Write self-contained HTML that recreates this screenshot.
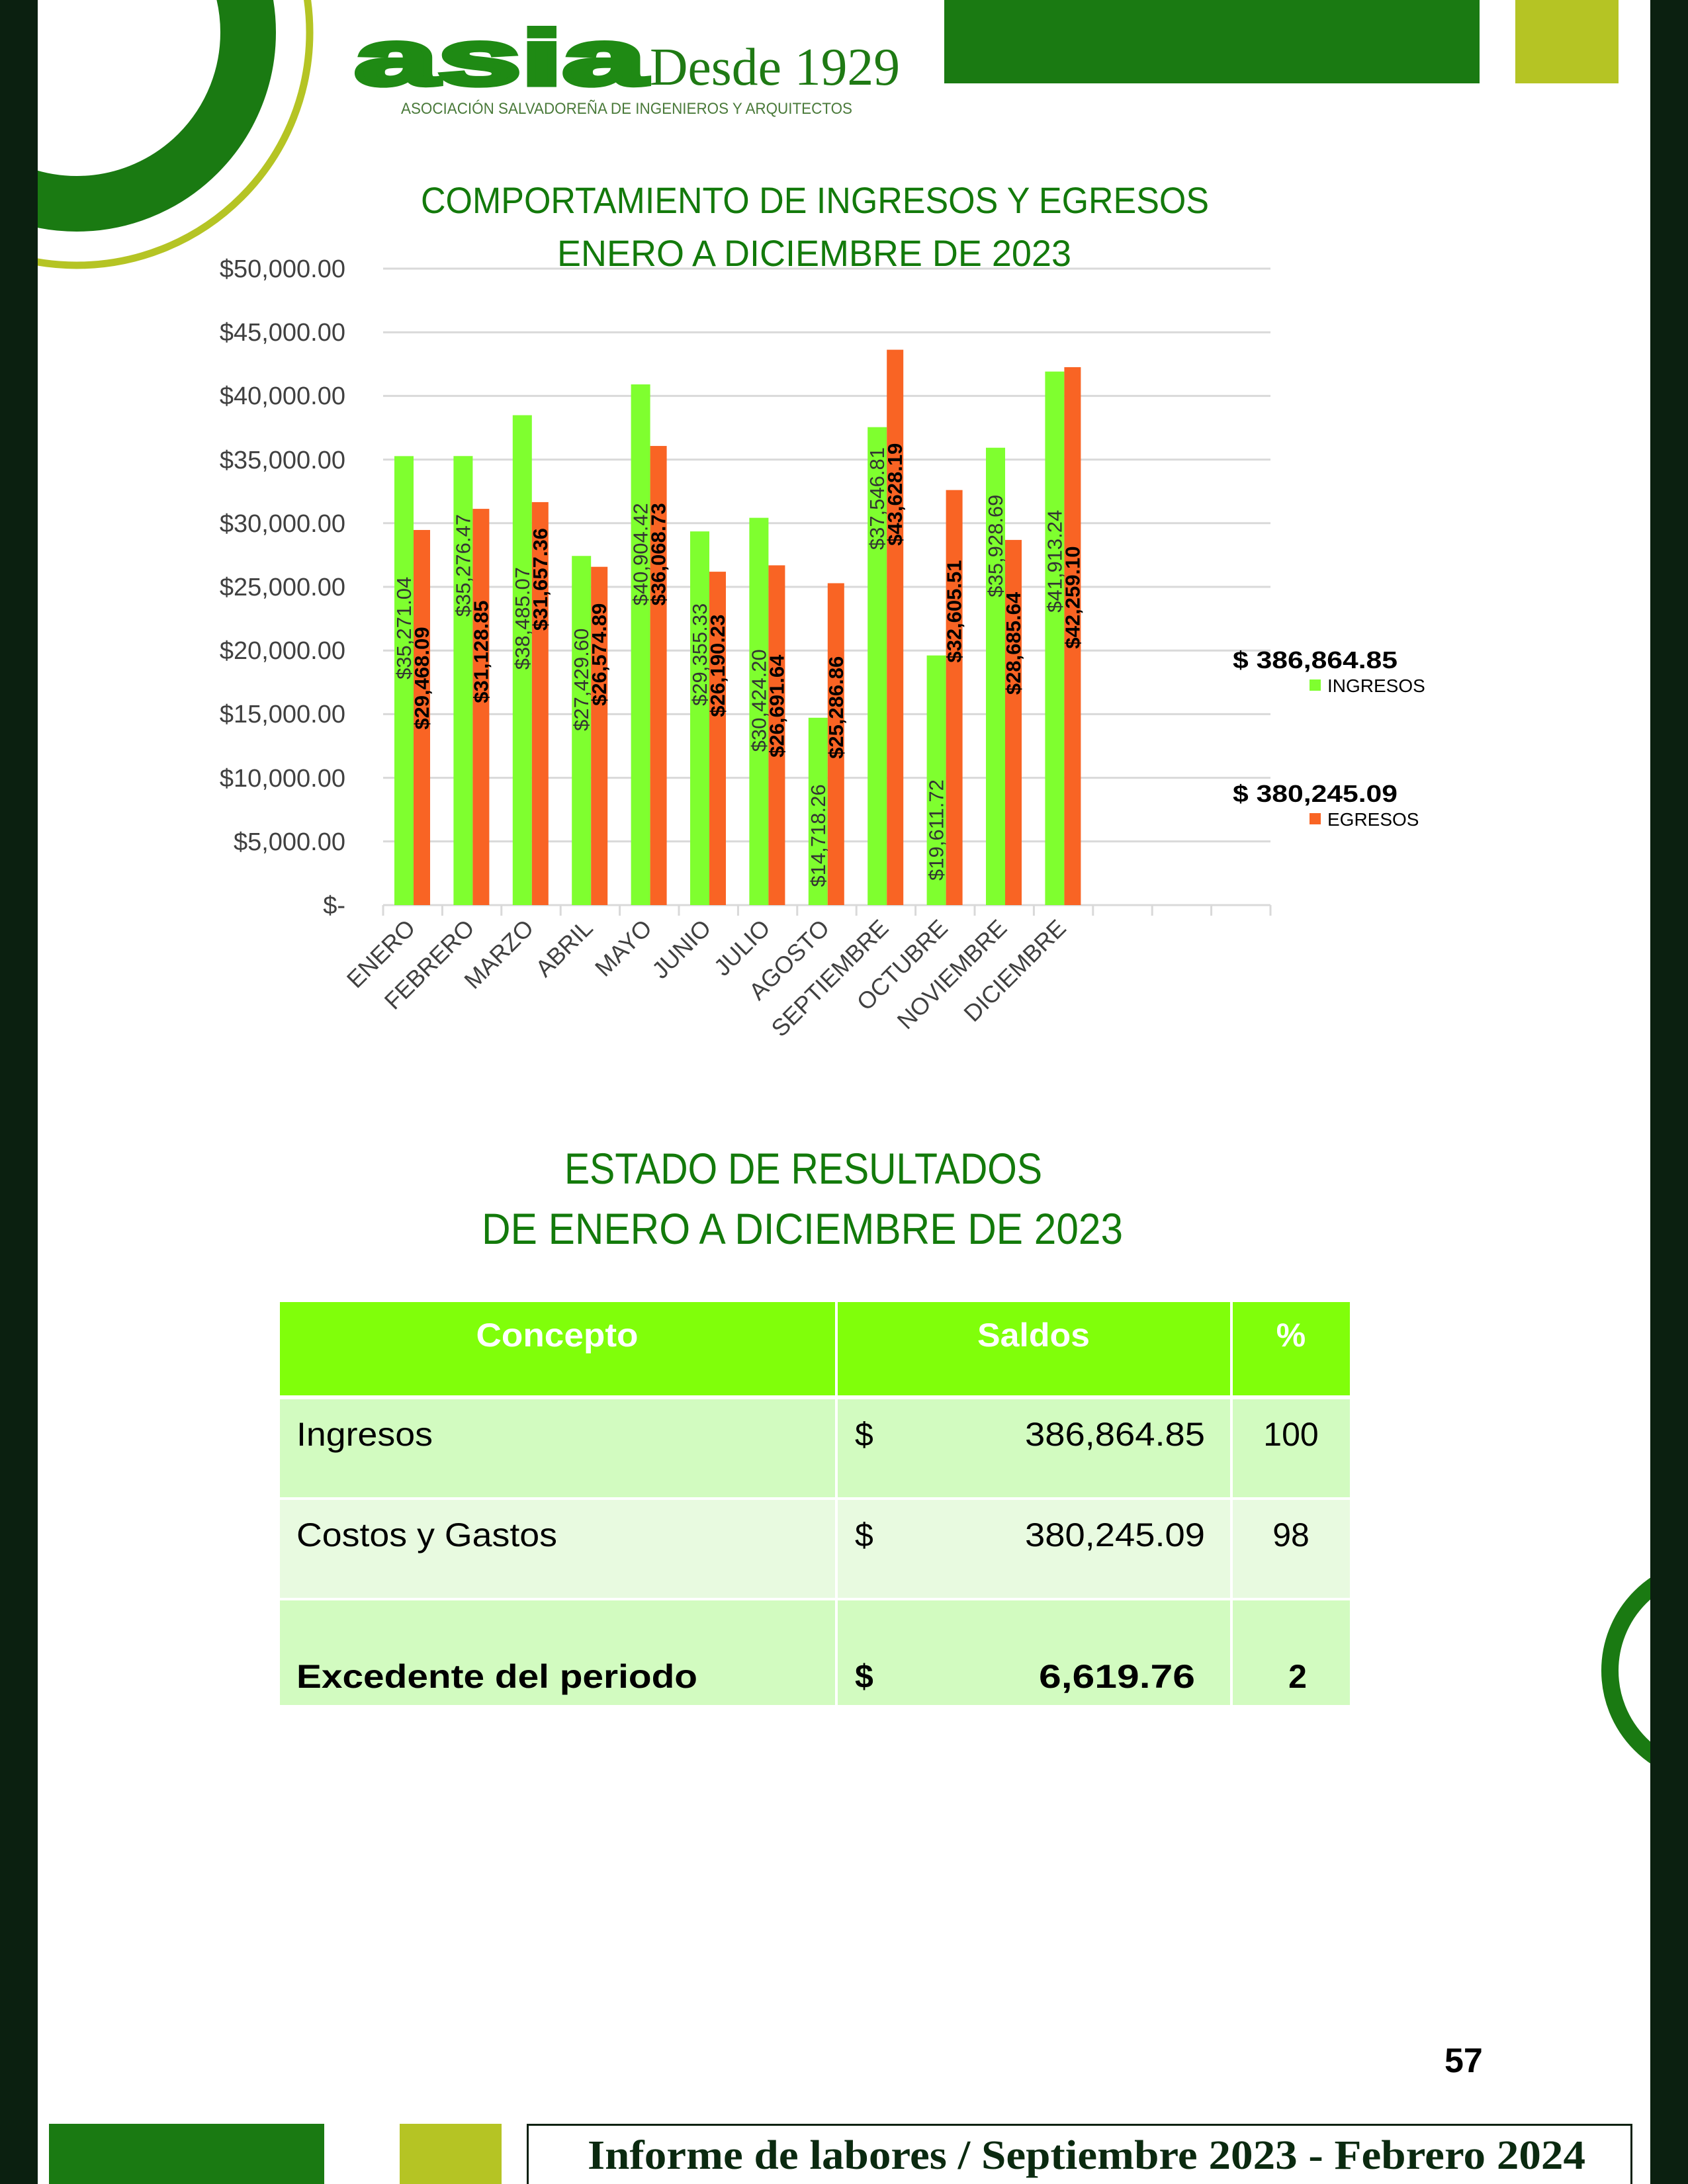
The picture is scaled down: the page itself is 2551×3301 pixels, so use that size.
<!DOCTYPE html>
<html><head><meta charset="utf-8"><style>
html,body{margin:0;padding:0;background:#fff}
svg{display:block}
</style></head><body>
<svg width="2551" height="3301" viewBox="0 0 2551 3301" xmlns="http://www.w3.org/2000/svg" font-family="Liberation Sans, sans-serif">
<rect width="2551" height="3301" fill="#fff"/>
<circle cx="116" cy="49" r="259" fill="none" stroke="#1a7a12" stroke-width="84"/>
<circle cx="116" cy="49" r="352" fill="none" stroke="#b5c424" stroke-width="11"/>
<circle cx="2590" cy="2525" r="157" fill="none" stroke="#1a7a12" stroke-width="26"/>
<rect x="0" y="0" width="57" height="3301" fill="#0b2010"/>
<rect x="2494" y="0" width="57" height="3301" fill="#0b2010"/>
<rect x="1427" y="0" width="809" height="126" fill="#1a7a12"/>
<rect x="2290" y="0" width="156" height="126" fill="#b5c424"/>
<text x="536" y="128" font-size="118" font-weight="bold" fill="#1f8a14" stroke="#1f8a14" stroke-width="7" textLength="440" lengthAdjust="spacingAndGlyphs">asia</text>
<text x="982" y="128" font-size="80" font-family="Liberation Serif, serif" fill="#1f7a14" textLength="378" lengthAdjust="spacingAndGlyphs">Desde 1929</text>
<text x="606" y="172" font-size="24" fill="#4a7a3a" textLength="682" lengthAdjust="spacingAndGlyphs">ASOCIACIÓN SALVADOREÑA DE INGENIEROS Y ARQUITECTOS</text>
<text x="636" y="322" font-size="56" fill="#137a0b" textLength="1191" lengthAdjust="spacingAndGlyphs">COMPORTAMIENTO DE INGRESOS Y EGRESOS</text>
<text x="842" y="402" font-size="56" fill="#137a0b" textLength="777" lengthAdjust="spacingAndGlyphs">ENERO A DICIEMBRE DE 2023</text>
<g stroke="#d9d9d9" stroke-width="3">
<line x1="579" x2="1920" y1="406" y2="406"/><line x1="579" x2="1920" y1="502.2" y2="502.2"/>
<line x1="579" x2="1920" y1="598.4" y2="598.4"/><line x1="579" x2="1920" y1="694.6" y2="694.6"/>
<line x1="579" x2="1920" y1="790.8" y2="790.8"/><line x1="579" x2="1920" y1="887" y2="887"/>
<line x1="579" x2="1920" y1="983.2" y2="983.2"/><line x1="579" x2="1920" y1="1079.4" y2="1079.4"/>
<line x1="579" x2="1920" y1="1175.6" y2="1175.6"/><line x1="579" x2="1920" y1="1271.8" y2="1271.8"/>
<line x1="579" x2="1920" y1="1368" y2="1368"/>
</g>
<g id="ticks" stroke="#d9d9d9" stroke-width="3"></g>
<g font-size="38" fill="#404040" text-anchor="end">
<text x="522" y="419">$50,000.00</text><text x="522" y="515">$45,000.00</text>
<text x="522" y="611">$40,000.00</text><text x="522" y="708">$35,000.00</text>
<text x="522" y="804">$30,000.00</text><text x="522" y="900">$25,000.00</text>
<text x="522" y="996">$20,000.00</text><text x="522" y="1092">$15,000.00</text>
<text x="522" y="1189">$10,000.00</text><text x="522" y="1285">$5,000.00</text>
<text x="522" y="1381">$-</text>
</g>
<g id="bars"></g>
<text x="1863" y="1010" font-size="36" font-weight="bold" fill="#000" textLength="249" lengthAdjust="spacingAndGlyphs">$ 386,864.85</text>
<rect x="1979" y="1027" width="17" height="17" fill="#7fff2f"/>
<text x="2006" y="1046" font-size="28" fill="#000">INGRESOS</text>
<text x="1863" y="1212" font-size="36" font-weight="bold" fill="#000" textLength="249" lengthAdjust="spacingAndGlyphs">$ 380,245.09</text>
<rect x="1979" y="1229" width="17" height="17" fill="#f96424"/>
<text x="2006" y="1248" font-size="28" fill="#000">EGRESOS</text>
<text x="853" y="1789" font-size="66" fill="#137a0b" textLength="722" lengthAdjust="spacingAndGlyphs">ESTADO DE RESULTADOS</text>
<text x="728" y="1880" font-size="66" fill="#137a0b" textLength="969" lengthAdjust="spacingAndGlyphs">DE ENERO A DICIEMBRE DE 2023</text>
<rect x="423" y="1968" width="1617" height="141" fill="#80ff0a"/>
<rect x="423" y="2115" width="1617" height="148" fill="#d2fbc0"/>
<rect x="423" y="2267" width="1617" height="148" fill="#e8fae0"/>
<rect x="423" y="2419" width="1617" height="158" fill="#d2fbc0"/>
<rect x="1262" y="1968" width="4" height="609" fill="#fff"/>
<rect x="1859" y="1968" width="4" height="609" fill="#fff"/>
<g font-size="50" fill="#fff" font-weight="bold" text-anchor="middle">
<text x="842" y="2035" textLength="245" lengthAdjust="spacingAndGlyphs">Concepto</text>
<text x="1562" y="2035" textLength="170" lengthAdjust="spacingAndGlyphs">Saldos</text>
<text x="1951" y="2035">%</text>
</g>
<g font-size="50" fill="#000">
<text x="448" y="2185" textLength="206" lengthAdjust="spacingAndGlyphs">Ingresos</text>
<text x="1292" y="2185">$</text>
<text x="1821" y="2185" text-anchor="end" textLength="272" lengthAdjust="spacingAndGlyphs">386,864.85</text>
<text x="1951" y="2185" text-anchor="middle">100</text>
<text x="448" y="2337" textLength="394" lengthAdjust="spacingAndGlyphs">Costos y Gastos</text>
<text x="1292" y="2337">$</text>
<text x="1821" y="2337" text-anchor="end" textLength="272" lengthAdjust="spacingAndGlyphs">380,245.09</text>
<text x="1951" y="2337" text-anchor="middle">98</text>
<g font-weight="bold">
<text x="448" y="2551" textLength="606" lengthAdjust="spacingAndGlyphs">Excedente del periodo</text>
<text x="1292" y="2551">$</text>
<text x="1806" y="2551" text-anchor="end" textLength="236" lengthAdjust="spacingAndGlyphs">6,619.76</text>
<text x="1961" y="2551" text-anchor="middle">2</text>
</g>
</g>
<text x="2183" y="3132" font-size="52" font-weight="bold" fill="#000">57</text>
<rect x="74" y="3210" width="416" height="91" fill="#1a7a12"/>
<rect x="604" y="3210" width="154" height="91" fill="#b5c424"/>
<rect x="797.5" y="3211.5" width="1668" height="95" fill="none" stroke="#0b2010" stroke-width="3"/>
<text x="888" y="3278" font-size="62" font-weight="bold" font-family="Liberation Serif, serif" fill="#0b2a10" textLength="1508" lengthAdjust="spacingAndGlyphs">Informe de labores / Septiembre 2023 - Febrero 2024</text>
</svg>
<script>
(function(){
var ns="http://www.w3.org/2000/svg";
var g=document.getElementById("bars"),t=document.getElementById("ticks");
function el(n,a,p,txt){var e=document.createElementNS(ns,n);for(var k in a)e.setAttribute(k,a[k]);if(txt)e.textContent=txt;p.appendChild(e);return e;}
for(var i=0;i<=15;i++){var x=579+89.4*i;el("line",{x1:x,x2:x,y1:1368,y2:1384},t);}
var names=["ENERO","FEBRERO","MARZO","ABRIL","MAYO","JUNIO","JULIO","AGOSTO","SEPTIEMBRE","OCTUBRE","NOVIEMBRE","DICIEMBRE"];
var ing=[35271.04,35276.47,38485.07,27429.60,40904.42,29355.33,30424.20,14718.26,37546.81,19611.72,35928.69,41913.24];
var egr=[29468.09,31128.85,31657.36,26574.89,36068.73,26190.23,26691.64,25286.86,43628.19,32605.51,28685.64,42259.10];
var gy=[451,406,444,488,398,470,503,600,358,596,392,403];
var oy=[487,468,416,470,398,478,507,508,355,439,462,429];
function fmt(v){var s=v.toFixed(2).split(".");return "$"+s[0].replace(/\B(?=(\d{3})+(?!\d))/g,",")+"."+s[1];}
function Y(v){return 1368-v/50000*962;}
for(var i=0;i<12;i++){
 var s=579+89.4*i;
 el("rect",{x:s+17,y:Y(ing[i]),width:29,height:1368-Y(ing[i]),fill:"#7fff2f"},g);
 el("rect",{x:s+46,y:Y(egr[i]),width:25,height:1368-Y(egr[i]),fill:"#f96424"},g);
}
for(var i=0;i<12;i++){
 var s=579+89.4*i;
 var cx=s+31+11, cy=gy[i]*2.105;
 el("text",{x:0,y:0,transform:"translate("+cx+","+cy+") rotate(-90)","text-anchor":"middle","font-size":31,fill:"#333"},g,fmt(ing[i]));
 cx=s+58+11; cy=oy[i]*2.105;
 el("text",{x:0,y:0,transform:"translate("+cx+","+cy+") rotate(-90)","text-anchor":"middle","font-size":31,"font-weight":"bold",fill:"#000"},g,fmt(egr[i]));
 var c=s+44.7+6;
 el("text",{x:0,y:0,transform:"translate("+c+",1405) rotate(-45)","text-anchor":"end","font-size":36,fill:"#404040"},g,names[i]);
}
})();
</script>
</body></html>
